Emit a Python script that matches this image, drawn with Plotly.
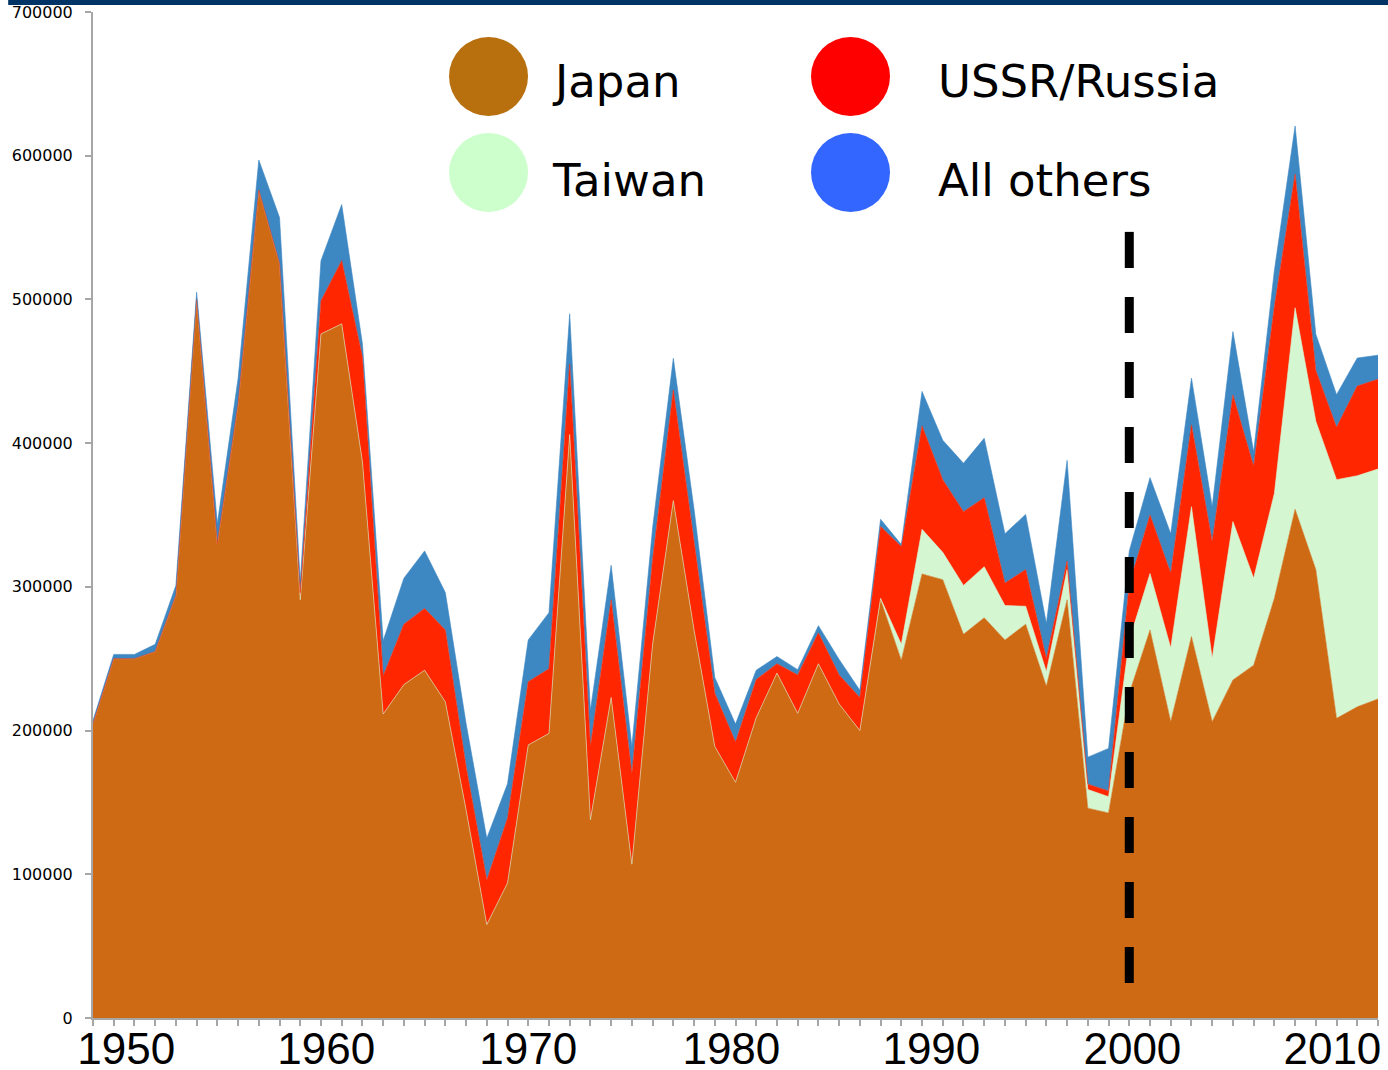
import plotly.graph_objects as go

# Catch by country, 1950-2012
years = list(range(1950, 2013))

japan = [205000, 250000, 250000, 255000, 294000, 500000, 330000, 427000, 576000, 525000,
         291000, 476000, 483000, 387000, 211500, 232000, 242000, 220000, 145000, 65000,
         94000, 190000, 198000, 406000, 138000, 223000, 107000, 260000, 360000, 270000,
         189000, 164000, 209000, 240000, 212000, 246500, 218500, 200000, 291000, 249000,
         309000, 305000, 267000, 278500, 263000, 274000, 230800, 291000, 146000, 142700,
         226000, 270000, 206200, 265400, 206200, 235200, 245500, 292000, 354000, 312000,
         208500, 216500, 222000]

taiwan = [0] * 38 + [1000, 11000,
          31000, 19000, 34000, 35500, 24000, 12500, 10200, 21000, 13000, 11300,
          37000, 39300, 51300, 90400, 44100, 110200, 60500, 73000, 140200, 103300,
          166100, 160800, 160000]

ussr_russia = [0] * 10 + [
          5000, 23000, 44000, 73000, 26500, 42000, 43000, 50000, 30000, 31000,
          45000, 44000, 45000, 49000, 51000, 68000, 63000, 59000, 77000, 62000,
          37000, 28000, 26500, 6500, 26700, 21500, 20200, 23000, 50000, 68000,
          72000, 50500, 51300, 48000, 15600, 25500, 9000, 6000, 3700, 4000,
          39000, 40700, 52000, 56900, 81200, 88100, 78000, 130000, 92900, 35300,
          36400, 62400, 62500]

all_others = [2000, 3000, 3000, 5000, 7000, 5000, 14000, 18000, 21000, 32000,
              8000, 28000, 39000, 9000, 24500, 32000, 40000, 26000, 30000, 29000,
              24000, 29000, 39000, 35000, 25000, 24000, 19000, 22000, 22000, 22000,
              11000, 12500, 6500, 5000, 3700, 5000, 10800, 5000, 5000, 1500,
              24000, 27500, 33700, 41400, 34400, 38400, 24500, 70000, 18800, 29600,
              23000, 26000, 27500, 32500, 24300, 44100, 10000, 25000, 33600, 25200,
              22700, 19500, 16700]

# big year labels sit where the slide author put them, slightly off the decade ticks
label_years = [1951.6, 1961.25, 1971.0, 1980.8, 1990.45, 2000.15, 2009.8]
label_text = ["1950", "1960", "1970", "1980", "1990", "2000", "2010"]

marker_year = 2000
marker_span = [547000, 23000]

series = [
    ("Japan", japan, "#CE6A14"),
    ("Taiwan", taiwan, "#D4F7D2"),
    ("USSR/Russia", ussr_russia, "#FF2600"),
    ("All others", all_others, "#3D87C2"),
]

# hand-drawn legend of the slide: (name, colour, column, row)
legend_items = [
    ("Japan", "#B8700F", 0, 0),
    ("USSR/Russia", "#FF0000", 1, 0),
    ("Taiwan", "#CCFFCC", 0, 1),
    ("All others", "#3366FF", 1, 1),
]

fig = go.Figure()

for name, vals, color in series:
    fig.add_trace(go.Scatter(x=years, y=vals, name=name, mode="lines",
                             stackgroup="one", line=dict(width=0.6, color=color),
                             fillcolor=color, hoverinfo="x+y+name"))

fig.add_trace(go.Scatter(x=[marker_year, marker_year], y=marker_span, mode="lines",
                         line=dict(color="black", width=9, dash="36px,29px"),
                         hoverinfo="skip", showlegend=False))

# legend circles + text
col_x = [0.3078, 0.5895]
row_y = [0.9359, 0.8405]
shapes = []
annotations = []
for name, color, c, r in legend_items:
    shapes.append(dict(type="circle", xref="paper", yref="paper",
                       xsizemode="pixel", ysizemode="pixel",
                       xanchor=col_x[c], yanchor=row_y[r],
                       x0=-39.5, x1=39.5, y0=-39.5, y1=39.5,
                       fillcolor=color, line=dict(width=0)))
    annotations.append(dict(text=name, xref="paper", yref="paper",
                            x=col_x[c] + 0.0480 + (0.0185 if c else 0),
                            y=row_y[r] - (0.005 if r == 0 else 0.008),
                            xanchor="left", yanchor="middle", showarrow=False,
                            font=dict(family="DejaVu Sans", size=45, color="black")))

# navy header strip of the slide
shapes.append(dict(type="rect", xref="paper", yref="paper", layer="above",
                   x0=-0.066, x1=1.01, y0=1.0070, y1=1.013,
                   fillcolor="#003366", line=dict(width=0)))

fig.update_layout(
    template="none",
    width=1388, height=1070,
    margin=dict(l=93, r=10, t=12, b=52),
    plot_bgcolor="white", paper_bgcolor="white",
    showlegend=False,
    shapes=shapes,
    annotations=annotations,
)

fig.update_xaxes(
    range=[1950, 2012], showgrid=False, zeroline=False, automargin=False,
    showline=True, linecolor="#A6A6A6", linewidth=2,
    tickmode="array", tickvals=label_years, ticktext=label_text,
    ticks="", ticklabelstandoff=-9,
    tickfont=dict(family="Liberation Sans", size=44, color="black"),
    minor=dict(tickmode="linear", tick0=1950, dtick=1, ticks="outside",
               ticklen=6, tickcolor="#A6A6A6", tickwidth=1.5, showgrid=False),
)

fig.update_yaxes(
    range=[0, 700000], showgrid=False, zeroline=False, automargin=False,
    showline=True, linecolor="#A6A6A6", linewidth=2,
    tickmode="linear", tick0=0, dtick=100000, tickformat="d",
    ticks="outside", ticklen=6, tickcolor="#A6A6A6", tickwidth=1.5,
    ticklabelstandoff=9,
    tickfont=dict(family="DejaVu Sans", size=16, color="black"),
)

# the page body has a default 8px margin; drop it so the figure fills the window
fig.write_html("out.html", config={"displayModeBar": False},
               post_script="document.body.style.margin='0px';")
